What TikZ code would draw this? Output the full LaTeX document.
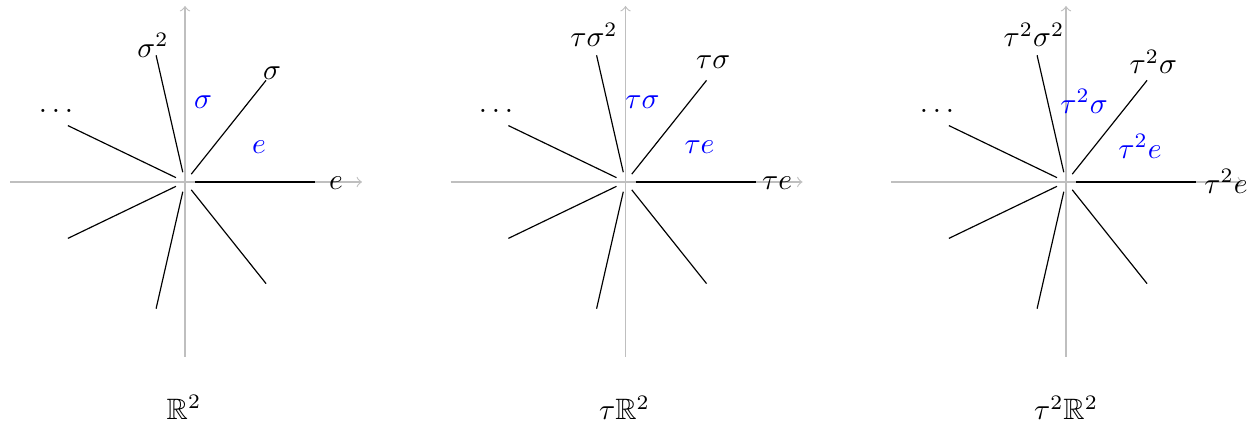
\documentclass[tikz,border=0pt]{standalone}
\usepackage{amssymb}
\usetikzlibrary{calc}
\begin{document}
\begin{tikzpicture}[x=0.011924cm,y=-0.011924cm,
  axis/.style={draw=black!25, line width=0.4pt, ->},
  ray/.style={draw=black, line width=0.4pt},
  lbl/.style={anchor=base, inner sep=0pt},
  blu/.style={lbl, text=blue}]
\useasboundingbox (0,0) rectangle (1258,434);

% ---------- panel 1 ----------
\coordinate (o1) at (185,182);
\coordinate (l1) at ($(o1)+(-175,0)$);
\coordinate (r1) at ($(o1)+(177,0)$);
\coordinate (b1) at ($(o1)+(0,175)$);
\coordinate (t1) at ($(o1)+(0,-176)$);
\draw[axis] (l1) -- (r1);
\draw[axis] (b1) -- (t1);
\foreach \k in {0,...,6}{
  \draw[ray] ($(o1)+(\k*360/7:10)$) -- ($(o1)+(\k*360/7:130)$);
}
\node[lbl] (e1) at (336,189.5) {$e$};
\node[lbl] (s1) at (272,79.5) {$\sigma$};
\node[lbl] (ss1) at (153,57.5) {$\sigma^2$};
\node[lbl] (d1) at (56,113) {$\dots$};
\node[blu] (bs1) at (203,108.5) {$\sigma$};
\node[blu] (be1) at (259,153.5) {$e$};
\node[lbl] (R1) at (184,419.5) {$\mathbb{R}^2$};

% ---------- panel 2 ----------
\coordinate (o2) at (625.5,182);
\coordinate (l2) at ($(o2)+(-175,0)$);
\coordinate (r2) at ($(o2)+(177,0)$);
\coordinate (b2) at ($(o2)+(0,175)$);
\coordinate (t2) at ($(o2)+(0,-176)$);
\draw[axis] (l2) -- (r2);
\draw[axis] (b2) -- (t2);
\foreach \k in {0,...,6}{
  \draw[ray] ($(o2)+(\k*360/7:10)$) -- ($(o2)+(\k*360/7:130)$);
}
\node[lbl] (e2) at (777,190) {$\tau e$};
\node[lbl] (s2) at (713.3,68.5) {$\tau\sigma$};
\node[lbl] (ss2) at (594,47) {$\tau\sigma^2$};
\node[lbl] (d2) at (496,113) {$\dots$};
\node[blu] (bs2) at (642.5,109) {$\tau\sigma$};
\node[blu] (be2) at (699.5,153.5) {$\tau e$};
\node[lbl] (R2) at (624.5,420) {$\tau\mathbb{R}^2$};

% ---------- panel 3 ----------
\coordinate (o3) at (1066,182);
\coordinate (l3) at ($(o3)+(-175,0)$);
\coordinate (r3) at ($(o3)+(177,0)$);
\coordinate (b3) at ($(o3)+(0,175)$);
\coordinate (t3) at ($(o3)+(0,-176)$);
\draw[axis] (l3) -- (r3);
\draw[axis] (b3) -- (t3);
\foreach \k in {0,...,6}{
  \draw[ray] ($(o3)+(\k*360/7:10)$) -- ($(o3)+(\k*360/7:130)$);
}
\node[lbl] (e3) at (1226,193.5) {$\tau^2 e$};
\node[lbl] (s3) at (1153.3,74) {$\tau^2\sigma$};
\node[lbl] (ss3) at (1034,47) {$\tau^2\sigma^2$};
\node[lbl] (d3) at (937,113) {$\dots$};
\node[blu] (bs3) at (1084,113.5) {$\tau^2\sigma$};
\node[blu] (be3) at (1140,158.5) {$\tau^2 e$};
\node[lbl] (R3) at (1066,420) {$\tau^2\mathbb{R}^2$};
\end{tikzpicture}
\end{document}
